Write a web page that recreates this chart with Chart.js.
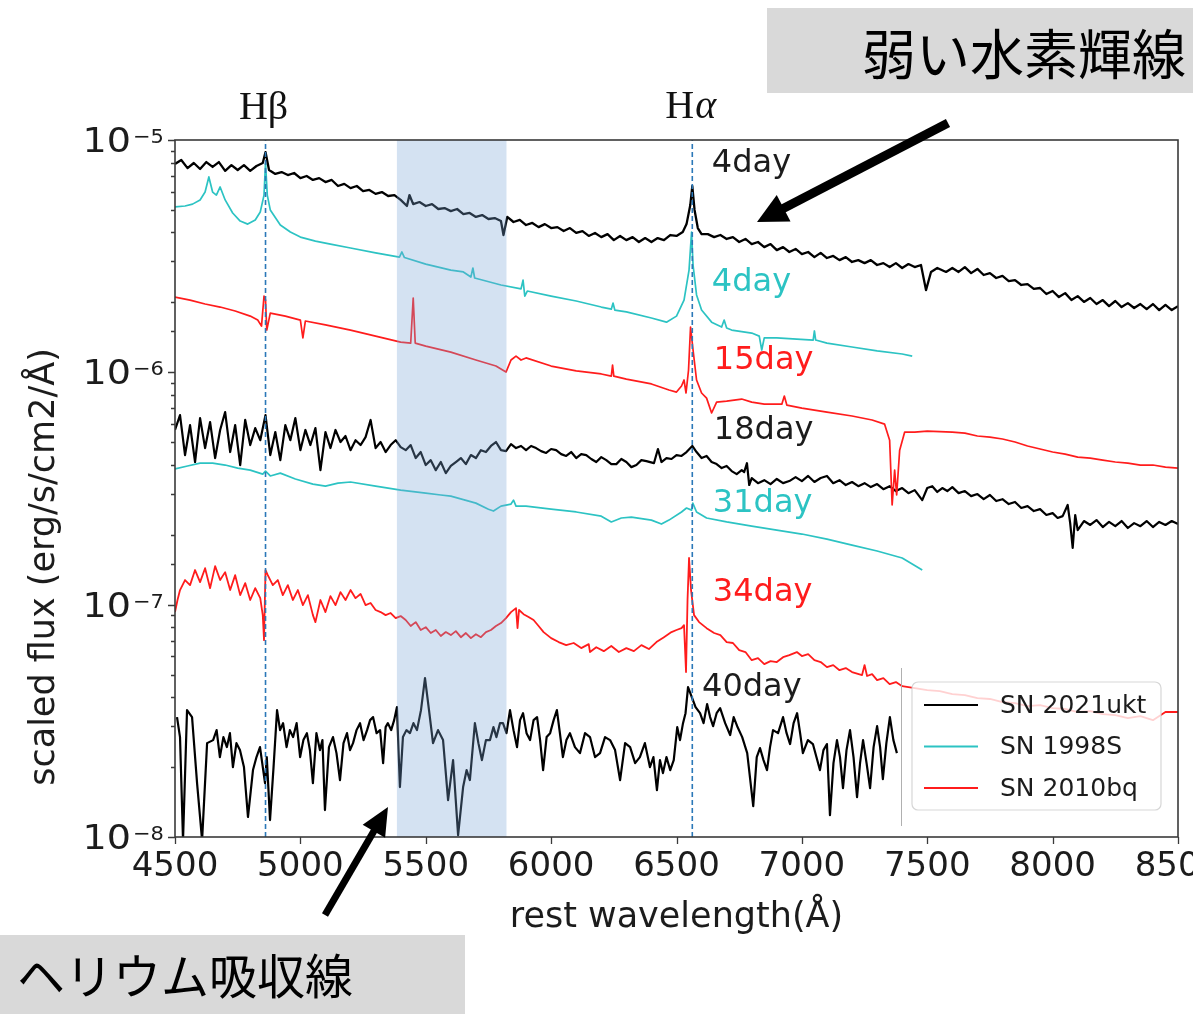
<!DOCTYPE html>
<html>
<head>
<meta charset="utf-8">
<script src="https://cdn.jsdelivr.net/npm/chart.js@4.4.1/dist/chart.umd.min.js"></script>
<style>
  html, body { margin: 0; padding: 0; background: #fff; overflow: hidden; }
  canvas { display: block; }
</style>
</head>
<body>
<canvas id="spectra" width="1193" height="1014"></canvas>
<script>
// Spectra as [rest wavelength (Å), log10 scaled flux]
const ukt21_4d = [[4500,-5.103],[4525,-5.086],[4550,-5.121],[4575,-5.099],[4600,-5.125],[4625,-5.095],[4650,-5.116],[4675,-5.095],[4700,-5.133],[4725,-5.108],[4750,-5.129],[4775,-5.108],[4800,-5.133],[4825,-5.112],[4850,-5.099],[4861,-5.052],[4875,-5.129],[4900,-5.146],[4925,-5.138],[4950,-5.151],[4975,-5.142],[5000,-5.164],[5025,-5.155],[5050,-5.172],[5075,-5.164],[5100,-5.181],[5125,-5.172],[5150,-5.198],[5175,-5.189],[5200,-5.207],[5225,-5.198],[5250,-5.220],[5275,-5.215],[5300,-5.232],[5325,-5.224],[5350,-5.241],[5375,-5.237],[5400,-5.258],[5425,-5.284],[5435,-5.237],[5450,-5.276],[5475,-5.267],[5500,-5.284],[5525,-5.276],[5550,-5.297],[5575,-5.293],[5600,-5.306],[5625,-5.297],[5650,-5.319],[5675,-5.314],[5700,-5.331],[5725,-5.323],[5750,-5.340],[5775,-5.336],[5800,-5.349],[5810,-5.409],[5825,-5.331],[5850,-5.353],[5875,-5.344],[5900,-5.366],[5925,-5.357],[5950,-5.375],[5975,-5.362],[6000,-5.379],[6025,-5.375],[6050,-5.392],[6075,-5.379],[6100,-5.400],[6125,-5.392],[6150,-5.413],[6175,-5.400],[6200,-5.418],[6225,-5.405],[6250,-5.431],[6275,-5.413],[6300,-5.431],[6325,-5.418],[6350,-5.439],[6375,-5.422],[6400,-5.439],[6425,-5.422],[6450,-5.431],[6475,-5.409],[6500,-5.413],[6525,-5.396],[6540,-5.362],[6555,-5.280],[6563,-5.198],[6572,-5.301],[6585,-5.379],[6600,-5.405],[6625,-5.405],[6650,-5.418],[6675,-5.409],[6700,-5.426],[6725,-5.418],[6750,-5.439],[6775,-5.426],[6800,-5.448],[6825,-5.439],[6850,-5.461],[6875,-5.448],[6900,-5.474],[6925,-5.461],[6950,-5.482],[6975,-5.469],[7000,-5.491],[7025,-5.482],[7050,-5.504],[7075,-5.486],[7100,-5.508],[7125,-5.499],[7150,-5.517],[7175,-5.504],[7200,-5.525],[7225,-5.517],[7250,-5.530],[7275,-5.517],[7300,-5.538],[7325,-5.530],[7350,-5.547],[7375,-5.530],[7400,-5.551],[7425,-5.534],[7450,-5.547],[7475,-5.538],[7495,-5.646],[7515,-5.568],[7540,-5.551],[7575,-5.568],[7600,-5.551],[7625,-5.568],[7650,-5.547],[7675,-5.573],[7700,-5.555],[7725,-5.581],[7750,-5.573],[7775,-5.594],[7800,-5.585],[7825,-5.607],[7850,-5.603],[7875,-5.624],[7900,-5.620],[7925,-5.641],[7950,-5.637],[7975,-5.663],[8000,-5.650],[8025,-5.676],[8050,-5.659],[8075,-5.689],[8100,-5.672],[8125,-5.697],[8150,-5.680],[8175,-5.706],[8200,-5.689],[8225,-5.715],[8250,-5.693],[8275,-5.719],[8300,-5.702],[8325,-5.723],[8350,-5.706],[8375,-5.728],[8400,-5.706],[8425,-5.732],[8450,-5.710],[8475,-5.732],[8500,-5.715]];

const ukt21_18d = [[4500,-6.248],[4520,-6.184],[4540,-6.356],[4560,-6.227],[4580,-6.386],[4600,-6.197],[4620,-6.326],[4640,-6.214],[4660,-6.369],[4680,-6.248],[4700,-6.171],[4720,-6.343],[4740,-6.227],[4760,-6.399],[4780,-6.205],[4800,-6.313],[4820,-6.240],[4840,-6.292],[4861,-6.184],[4880,-6.356],[4900,-6.257],[4920,-6.378],[4940,-6.227],[4960,-6.292],[4980,-6.197],[5000,-6.335],[5020,-6.248],[5040,-6.313],[5060,-6.240],[5080,-6.421],[5100,-6.257],[5120,-6.326],[5140,-6.248],[5160,-6.300],[5180,-6.274],[5200,-6.335],[5220,-6.292],[5240,-6.313],[5260,-6.279],[5280,-6.205],[5300,-6.326],[5320,-6.300],[5340,-6.343],[5360,-6.313],[5380,-6.292],[5400,-6.322],[5420,-6.335],[5440,-6.313],[5460,-6.369],[5480,-6.343],[5500,-6.399],[5520,-6.378],[5540,-6.421],[5560,-6.386],[5580,-6.434],[5600,-6.403],[5620,-6.386],[5640,-6.369],[5660,-6.395],[5680,-6.356],[5700,-6.369],[5720,-6.335],[5740,-6.343],[5760,-6.317],[5780,-6.300],[5800,-6.335],[5820,-6.339],[5840,-6.309],[5860,-6.326],[5880,-6.317],[5900,-6.335],[5920,-6.317],[5940,-6.326],[5960,-6.339],[5980,-6.347],[6000,-6.330],[6020,-6.335],[6040,-6.352],[6060,-6.360],[6080,-6.343],[6100,-6.369],[6120,-6.352],[6140,-6.356],[6160,-6.373],[6180,-6.386],[6200,-6.365],[6220,-6.378],[6240,-6.395],[6260,-6.395],[6280,-6.373],[6300,-6.386],[6320,-6.408],[6340,-6.399],[6360,-6.378],[6380,-6.382],[6410,-6.391],[6426,-6.330],[6440,-6.386],[6460,-6.369],[6480,-6.373],[6500,-6.356],[6520,-6.360],[6540,-6.343],[6563,-6.317],[6580,-6.343],[6600,-6.369],[6620,-6.360],[6640,-6.386],[6660,-6.395],[6680,-6.412],[6700,-6.403],[6720,-6.425],[6740,-6.438],[6760,-6.421],[6770,-6.429],[6781,-6.391],[6790,-6.485],[6800,-6.455],[6825,-6.477],[6850,-6.464],[6875,-6.481],[6900,-6.459],[6925,-6.477],[6950,-6.468],[6975,-6.451],[7000,-6.468],[7025,-6.446],[7050,-6.472],[7075,-6.455],[7100,-6.446],[7125,-6.477],[7150,-6.464],[7175,-6.485],[7200,-6.472],[7225,-6.490],[7250,-6.477],[7275,-6.494],[7300,-6.481],[7325,-6.503],[7350,-6.490],[7375,-6.511],[7400,-6.498],[7425,-6.520],[7450,-6.507],[7480,-6.550],[7500,-6.498],[7520,-6.490],[7540,-6.515],[7560,-6.498],[7580,-6.511],[7600,-6.494],[7625,-6.520],[7650,-6.511],[7675,-6.533],[7700,-6.524],[7725,-6.546],[7750,-6.528],[7775,-6.554],[7800,-6.546],[7825,-6.567],[7850,-6.558],[7875,-6.584],[7900,-6.576],[7925,-6.597],[7950,-6.589],[7975,-6.614],[8000,-6.606],[8020,-6.627],[8040,-6.619],[8060,-6.571],[8070,-6.649],[8080,-6.756],[8090,-6.614],[8100,-6.679],[8125,-6.640],[8150,-6.657],[8175,-6.636],[8200,-6.666],[8225,-6.644],[8250,-6.662],[8275,-6.640],[8300,-6.670],[8325,-6.649],[8350,-6.662],[8375,-6.640],[8400,-6.666],[8425,-6.644],[8450,-6.657],[8475,-6.640],[8500,-6.653]];

const ukt21_40d = [[4508,-7.484],[4520,-7.570],[4532,-8.014],[4548,-7.454],[4568,-7.484],[4588,-7.768],[4608,-8.014],[4628,-7.596],[4652,-7.583],[4666,-7.540],[4679,-7.656],[4693,-7.570],[4707,-7.613],[4719,-7.553],[4731,-7.699],[4745,-7.596],[4759,-7.626],[4775,-7.699],[4791,-7.914],[4811,-7.712],[4825,-7.656],[4839,-7.613],[4859,-7.768],[4866,-7.656],[4879,-7.927],[4893,-7.699],[4907,-7.454],[4919,-7.540],[4931,-7.510],[4945,-7.613],[4958,-7.540],[4971,-7.570],[4985,-7.510],[4999,-7.656],[5012,-7.583],[5026,-7.553],[5038,-7.626],[5050,-7.768],[5064,-7.553],[5078,-7.626],[5088,-7.583],[5098,-7.884],[5114,-7.613],[5130,-7.570],[5144,-7.639],[5158,-7.755],[5172,-7.596],[5186,-7.553],[5198,-7.626],[5210,-7.596],[5224,-7.540],[5238,-7.510],[5252,-7.583],[5266,-7.540],[5278,-7.497],[5290,-7.484],[5304,-7.553],[5318,-7.540],[5330,-7.682],[5340,-7.527],[5349,-7.510],[5362,-7.540],[5374,-7.497],[5385,-7.441],[5397,-7.785],[5409,-7.570],[5423,-7.540],[5437,-7.553],[5451,-7.510],[5465,-7.540],[5481,-7.454],[5497,-7.316],[5513,-7.454],[5529,-7.596],[5549,-7.540],[5569,-7.583],[5589,-7.841],[5609,-7.669],[5629,-7.992],[5649,-7.785],[5663,-7.712],[5676,-7.755],[5696,-7.510],[5710,-7.596],[5724,-7.669],[5740,-7.583],[5756,-7.583],[5770,-7.527],[5782,-7.570],[5796,-7.510],[5808,-7.510],[5822,-7.553],[5836,-7.454],[5850,-7.540],[5864,-7.613],[5876,-7.497],[5888,-7.467],[5902,-7.553],[5916,-7.583],[5930,-7.497],[5944,-7.484],[5956,-7.583],[5968,-7.712],[5982,-7.570],[5996,-7.553],[6010,-7.497],[6023,-7.454],[6035,-7.553],[6047,-7.656],[6061,-7.583],[6075,-7.553],[6095,-7.613],[6115,-7.639],[6135,-7.553],[6155,-7.570],[6175,-7.656],[6195,-7.639],[6215,-7.570],[6235,-7.583],[6255,-7.626],[6275,-7.755],[6295,-7.596],[6315,-7.613],[6335,-7.682],[6354,-7.656],[6374,-7.596],[6394,-7.699],[6408,-7.656],[6422,-7.798],[6434,-7.669],[6446,-7.725],[6460,-7.656],[6475,-7.712],[6489,-7.669],[6503,-7.527],[6514,-7.583],[6526,-7.510],[6536,-7.467],[6546,-7.355],[6558,-7.389],[6576,-7.441],[6594,-7.467],[6608,-7.510],[6622,-7.428],[6634,-7.484],[6646,-7.523],[6660,-7.467],[6674,-7.445],[6694,-7.510],[6714,-7.561],[6728,-7.484],[6742,-7.523],[6762,-7.570],[6782,-7.639],[6806,-7.867],[6820,-7.656],[6833,-7.617],[6847,-7.669],[6861,-7.712],[6873,-7.613],[6885,-7.540],[6905,-7.553],[6925,-7.484],[6939,-7.553],[6953,-7.600],[6967,-7.510],[6981,-7.467],[6993,-7.553],[7004,-7.639],[7024,-7.583],[7044,-7.600],[7058,-7.656],[7072,-7.712],[7086,-7.626],[7100,-7.600],[7112,-7.906],[7126,-7.682],[7140,-7.583],[7152,-7.656],[7164,-7.790],[7178,-7.626],[7192,-7.540],[7206,-7.656],[7220,-7.828],[7232,-7.682],[7244,-7.583],[7258,-7.682],[7272,-7.790],[7286,-7.613],[7300,-7.523],[7312,-7.613],[7323,-7.751],[7337,-7.596],[7351,-7.484],[7365,-7.583],[7379,-7.639]];

const s98_4d = [[4500,-5.288],[4540,-5.284],[4570,-5.276],[4600,-5.258],[4620,-5.224],[4635,-5.159],[4650,-5.224],[4665,-5.237],[4680,-5.202],[4700,-5.258],[4730,-5.314],[4760,-5.349],[4790,-5.362],[4820,-5.344],[4840,-5.310],[4855,-5.237],[4861,-5.099],[4868,-5.237],[4880,-5.301],[4920,-5.366],[4960,-5.396],[5000,-5.418],[5060,-5.435],[5120,-5.448],[5200,-5.465],[5300,-5.486],[5395,-5.504],[5405,-5.482],[5415,-5.506],[5500,-5.534],[5600,-5.560],[5650,-5.568],[5680,-5.590],[5688,-5.551],[5695,-5.594],[5800,-5.624],[5880,-5.641],[5888,-5.603],[5895,-5.672],[5905,-5.650],[6000,-5.672],[6100,-5.693],[6200,-5.719],[6240,-5.728],[6247,-5.702],[6254,-5.732],[6300,-5.740],[6400,-5.766],[6460,-5.784],[6500,-5.758],[6530,-5.689],[6550,-5.560],[6560,-5.396],[6566,-5.538],[6580,-5.667],[6600,-5.732],[6640,-5.784],[6680,-5.805],[6690,-5.775],[6700,-5.809],[6720,-5.818],[6800,-5.831],[6830,-5.844],[6840,-5.904],[6850,-5.852],[6900,-5.852],[6980,-5.857],[7045,-5.861],[7050,-5.822],[7055,-5.861],[7100,-5.874],[7200,-5.891],[7300,-5.908],[7400,-5.921],[7440,-5.930]];

const s98_31d = [[4500,-6.416],[4550,-6.403],[4600,-6.391],[4650,-6.391],[4700,-6.399],[4750,-6.412],[4800,-6.421],[4850,-6.438],[4861,-6.425],[4880,-6.446],[4920,-6.434],[4980,-6.459],[5050,-6.481],[5100,-6.490],[5150,-6.477],[5200,-6.472],[5300,-6.490],[5400,-6.507],[5500,-6.520],[5560,-6.528],[5600,-6.533],[5700,-6.563],[5750,-6.589],[5770,-6.597],[5800,-6.576],[5840,-6.567],[5850,-6.550],[5860,-6.576],[5900,-6.576],[6000,-6.589],[6100,-6.601],[6200,-6.619],[6240,-6.644],[6280,-6.627],[6320,-6.623],[6400,-6.636],[6440,-6.653],[6470,-6.636],[6520,-6.601],[6540,-6.584],[6560,-6.593],[6565,-6.563],[6580,-6.601],[6620,-6.627],[6700,-6.644],[6800,-6.662],[6900,-6.679],[7000,-6.696],[7100,-6.718],[7200,-6.744],[7300,-6.769],[7400,-6.799],[7480,-6.851]];

const bq10_15d = [[4500,-5.676],[4560,-5.689],[4620,-5.706],[4680,-5.719],[4740,-5.736],[4800,-5.758],[4830,-5.775],[4845,-5.801],[4855,-5.672],[4861,-5.689],[4866,-5.818],[4880,-5.745],[4940,-5.758],[5000,-5.775],[5010,-5.852],[5020,-5.779],[5100,-5.796],[5200,-5.818],[5300,-5.844],[5400,-5.870],[5440,-5.874],[5450,-5.680],[5458,-5.874],[5500,-5.887],[5600,-5.913],[5700,-5.947],[5780,-5.973],[5820,-5.999],[5840,-5.947],[5860,-5.930],[5880,-5.947],[5900,-5.938],[6000,-5.973],[6100,-5.994],[6200,-6.007],[6240,-6.016],[6245,-5.969],[6250,-6.016],[6300,-6.029],[6400,-6.050],[6470,-6.076],[6500,-6.085],[6520,-6.059],[6530,-6.033],[6538,-6.089],[6548,-5.990],[6556,-5.805],[6566,-5.904],[6580,-6.033],[6600,-6.089],[6620,-6.111],[6640,-6.175],[6660,-6.128],[6700,-6.124],[6760,-6.115],[6800,-6.128],[6850,-6.137],[6920,-6.137],[6930,-6.102],[6940,-6.141],[7000,-6.154],[7100,-6.171],[7200,-6.188],[7280,-6.205],[7330,-6.223],[7350,-6.292],[7360,-6.571],[7370,-6.421],[7378,-6.528],[7390,-6.335],[7410,-6.257],[7450,-6.257],[7500,-6.253],[7600,-6.257],[7650,-6.262],[7700,-6.274],[7750,-6.279],[7800,-6.287],[7850,-6.300],[7900,-6.317],[7950,-6.330],[8000,-6.343],[8050,-6.352],[8100,-6.365],[8150,-6.369],[8200,-6.378],[8250,-6.386],[8300,-6.391],[8350,-6.399],[8400,-6.399],[8450,-6.408],[8500,-6.412]];

const bq10_34d = [[4500,-7.032],[4510,-6.980],[4520,-6.937],[4540,-6.894],[4560,-6.916],[4580,-6.851],[4600,-6.903],[4620,-6.843],[4640,-6.929],[4660,-6.834],[4680,-6.894],[4700,-6.860],[4720,-6.937],[4740,-6.873],[4760,-6.959],[4780,-6.907],[4800,-6.980],[4820,-6.929],[4840,-6.972],[4850,-7.045],[4855,-7.153],[4861,-6.851],[4870,-6.873],[4890,-6.916],[4910,-6.894],[4930,-6.959],[4950,-6.916],[4970,-6.980],[4990,-6.937],[5010,-7.002],[5030,-6.959],[5050,-7.045],[5060,-7.075],[5080,-6.980],[5100,-7.032],[5120,-6.963],[5140,-7.002],[5160,-6.946],[5180,-6.980],[5200,-6.937],[5220,-6.972],[5240,-6.954],[5260,-7.002],[5280,-6.993],[5300,-7.023],[5320,-7.032],[5340,-7.045],[5360,-7.036],[5380,-7.058],[5400,-7.049],[5420,-7.066],[5440,-7.092],[5460,-7.075],[5480,-7.109],[5500,-7.097],[5520,-7.122],[5540,-7.109],[5560,-7.135],[5580,-7.118],[5600,-7.131],[5620,-7.114],[5640,-7.140],[5660,-7.122],[5680,-7.144],[5700,-7.127],[5720,-7.140],[5740,-7.118],[5760,-7.109],[5780,-7.092],[5800,-7.079],[5820,-7.058],[5840,-7.032],[5860,-7.015],[5866,-7.101],[5872,-7.023],[5890,-7.041],[5910,-7.053],[5930,-7.066],[5950,-7.092],[5970,-7.118],[6000,-7.144],[6030,-7.161],[6060,-7.174],[6090,-7.165],[6120,-7.187],[6150,-7.170],[6155,-7.204],[6180,-7.183],[6210,-7.200],[6240,-7.178],[6270,-7.204],[6300,-7.187],[6330,-7.200],[6360,-7.174],[6390,-7.191],[6420,-7.161],[6450,-7.140],[6480,-7.118],[6500,-7.109],[6520,-7.101],[6530,-7.088],[6538,-7.290],[6544,-6.980],[6550,-6.799],[6558,-6.937],[6570,-7.045],[6590,-7.075],[6620,-7.101],[6650,-7.122],[6675,-7.131],[6700,-7.161],[6725,-7.165],[6750,-7.196],[6775,-7.204],[6800,-7.239],[6825,-7.230],[6850,-7.256],[6875,-7.243],[6900,-7.247],[6925,-7.226],[6950,-7.217],[6980,-7.204],[7000,-7.221],[7025,-7.213],[7050,-7.239],[7075,-7.247],[7100,-7.269],[7125,-7.260],[7150,-7.282],[7175,-7.273],[7200,-7.290],[7240,-7.303],[7250,-7.260],[7260,-7.307],[7280,-7.299],[7300,-7.325],[7325,-7.316],[7350,-7.342],[7375,-7.333],[7400,-7.351],[7450,-7.359],[7500,-7.368],[7550,-7.372],[7600,-7.385],[7650,-7.389],[7700,-7.402],[7750,-7.406],[7800,-7.419],[7850,-7.424],[7900,-7.437],[7950,-7.432],[8000,-7.445],[8050,-7.449],[8100,-7.462],[8150,-7.458],[8200,-7.471],[8250,-7.475],[8300,-7.488],[8350,-7.480],[8400,-7.497],[8450,-7.462],[8500,-7.462]];

// Balmer line positions and the He I window (Å)
const hBeta = 4861;
const hAlpha = 6563;
const heBand = [5385, 5822];

const xTicks = [4500, 5000, 5500, 6000, 6500, 7000, 7500, 8000, 8500];
const yDecades = [-8, -7, -6, -5];

const C_BLACK = '#000000';
const C_CYAN = '#2cc3c3';
const C_RED = '#ff1c1c';
const C_TEXT = '#1c1c1c';

const objects = [
  { label: 'SN 2021ukt', color: C_BLACK },
  { label: 'SN 1998S', color: C_CYAN },
  { label: 'SN 2010bq', color: C_RED },
];

// epoch labels, anchored in (Å, log flux)
const epochLabels = [
  { text: '4day', wl: 6641, logF: -5.099, color: C_TEXT },
  { text: '4day', wl: 6641, logF: -5.611, color: C_CYAN },
  { text: '15day', wl: 6649, logF: -5.947, color: C_RED },
  { text: '18day', wl: 6649, logF: -6.248, color: C_TEXT },
  { text: '31day', wl: 6645, logF: -6.563, color: C_CYAN },
  { text: '34day', wl: 6645, logF: -6.942, color: C_RED },
  { text: '40day', wl: 6602, logF: -7.351, color: C_TEXT },
];

const toPoints = (arr) => arr.map(([w, lf]) => ({ x: w, y: Math.pow(10, lf) }));

function spectrum(arr, color, width) {
  return {
    data: toPoints(arr),
    borderColor: color,
    borderWidth: width,
    borderJoinStyle: 'round',
    pointRadius: 0,
    tension: 0,
    fill: false,
  };
}

function marker(wl) {
  return {
    data: [{ x: wl, y: 1e-8 }, { x: wl, y: 1e-5 }],
    borderColor: '#2b78b8',
    borderWidth: 1.6,
    borderDash: [5, 3],
    pointRadius: 0,
    fill: false,
  };
}

const SUP = { '-': '\u2212' };

function drawArrow(ctx, x0, y0, x1, y1, width, head, halfW) {
  const a = Math.atan2(y1 - y0, x1 - x0);
  const bx = x1 - head * Math.cos(a);
  const by = y1 - head * Math.sin(a);
  ctx.strokeStyle = '#000';
  ctx.fillStyle = '#000';
  ctx.lineWidth = width;
  ctx.lineCap = 'butt';
  ctx.beginPath();
  ctx.moveTo(x0, y0);
  ctx.lineTo(bx + Math.cos(a), by + Math.sin(a));
  ctx.stroke();
  ctx.beginPath();
  ctx.moveTo(x1, y1);
  ctx.lineTo(bx + halfW * Math.sin(a), by - halfW * Math.cos(a));
  ctx.lineTo(bx - halfW * Math.sin(a), by + halfW * Math.cos(a));
  ctx.closePath();
  ctx.fill();
}

const heBandPlugin = {
  id: 'heBand',
  afterDatasetsDraw(chart) {
    const { ctx, chartArea, scales } = chart;
    const x0 = scales.x.getPixelForValue(heBand[0]);
    const x1 = scales.x.getPixelForValue(heBand[1]);
    ctx.save();
    ctx.fillStyle = 'rgba(120, 165, 215, 0.32)';
    ctx.fillRect(x0, chartArea.top, x1 - x0, chartArea.bottom - chartArea.top);
    ctx.restore();
  },
};

const decorPlugin = {
  id: 'decor',
  afterDraw(chart) {
    const { ctx, chartArea, scales } = chart;
    const { left, right, top, bottom } = chartArea;
    const xs = scales.x;
    const ys = scales.y;
    ctx.save();

    // frame
    ctx.strokeStyle = '#3a3a3a';
    ctx.lineWidth = 1.6;
    ctx.strokeRect(left, top, right - left, bottom - top);

    // x ticks (outward)
    ctx.beginPath();
    xTicks.forEach((v) => {
      const px = Math.round(xs.getPixelForValue(v)) + 0.5;
      ctx.moveTo(px, bottom);
      ctx.lineTo(px, bottom + 7);
    });
    // y ticks: decades long, the rest short
    ys.ticks.forEach((t) => {
      const e = Math.log10(t.value);
      const major = Math.abs(e - Math.round(e)) < 1e-6;
      const py = Math.round(ys.getPixelForValue(t.value)) + 0.5;
      ctx.moveTo(left, py);
      ctx.lineTo(left - (major ? 7 : 4), py);
    });
    ctx.lineWidth = 1.3;
    ctx.stroke();

    // y tick labels 10^n, slightly widened
    ctx.fillStyle = C_TEXT;
    yDecades.forEach((e) => {
      const py = ys.getPixelForValue(Math.pow(10, e));
      ctx.save();
      ctx.translate(131, py + 12);
      ctx.scale(1.12, 1);
      ctx.font = '34px "DejaVu Sans"';
      ctx.textAlign = 'right';
      ctx.textBaseline = 'alphabetic';
      ctx.fillText('10', 0, 0);
      ctx.restore();
      ctx.save();
      ctx.translate(133, py + 3);
      ctx.scale(1.05, 1);
      ctx.font = '20px "DejaVu Sans"';
      ctx.textAlign = 'left';
      ctx.fillText(String(e).split('').map((c) => SUP[c] || c).join(''), 0, 0);
      ctx.restore();
    });

    // axis titles
    ctx.font = '35px "DejaVu Sans"';
    ctx.textAlign = 'center';
    ctx.textBaseline = 'middle';
    ctx.fillText('rest wavelength(\u00c5)', (left + right) / 2, 918);
    ctx.save();
    ctx.translate(45, 567);
    ctx.rotate(-Math.PI / 2);
    ctx.fillText('scaled flux (erg/s/cm2/\u00c5)', 0, 0);
    ctx.restore();

    // epoch labels
    ctx.font = '32px "DejaVu Sans"';
    ctx.textAlign = 'left';
    ctx.textBaseline = 'middle';
    epochLabels.forEach((l) => {
      ctx.fillStyle = l.color;
      ctx.fillText(l.text, xs.getPixelForValue(l.wl), ys.getPixelForValue(Math.pow(10, l.logF)) + 1);
    });

    // legend
    const lx = 912, ly = 682, lw = 249, lh = 128;
    ctx.beginPath();
    ctx.roundRect(lx, ly, lw, lh, 6);
    ctx.fillStyle = 'rgba(255,255,255,0.8)';
    ctx.fill();
    ctx.strokeStyle = 'rgba(204,204,204,0.8)';
    ctx.lineWidth = 1.2;
    ctx.stroke();
    ctx.font = '25px "DejaVu Sans"';
    ctx.textAlign = 'left';
    ctx.textBaseline = 'middle';
    objects.forEach((o, i) => {
      const y = 705 + i * 41.5;
      ctx.strokeStyle = o.color;
      ctx.lineWidth = 2;
      ctx.beginPath();
      ctx.moveTo(924, y);
      ctx.lineTo(978, y);
      ctx.stroke();
      ctx.fillStyle = C_TEXT;
      ctx.fillText(o.label, 1000, y + 1);
    });

    // thin rule beside the legend
    ctx.strokeStyle = '#b0b0b0';
    ctx.lineWidth = 1;
    ctx.beginPath();
    ctx.moveTo(901.5, 668);
    ctx.lineTo(901.5, 826);
    ctx.stroke();

    // H beta / H alpha labels above the dashed markers
    ctx.fillStyle = '#111';
    ctx.textBaseline = 'alphabetic';
    ctx.textAlign = 'center';
    ctx.font = '40px "Liberation Serif"';
    ctx.fillText('H\u03b2', xs.getPixelForValue(hBeta) - 2, 119);
    const hx = xs.getPixelForValue(hAlpha) - 2;
    ctx.font = '40px "Liberation Serif"';
    const wH = ctx.measureText('H').width;
    ctx.font = 'italic 40px "Liberation Serif"';
    const wA = ctx.measureText('\u03b1').width;
    ctx.textAlign = 'left';
    ctx.font = '40px "Liberation Serif"';
    ctx.fillText('H', hx - (wH + wA) / 2, 118);
    ctx.font = 'italic 40px "Liberation Serif"';
    ctx.fillText('\u03b1', hx - (wH + wA) / 2 + wH + 1, 118);

    // callouts
    ctx.fillStyle = '#d9d9d9';
    ctx.fillRect(767, 8, 426, 85);
    ctx.fillRect(0, 935, 465, 79);
    ctx.fillStyle = '#000';
    ctx.textBaseline = 'middle';
    ctx.textAlign = 'left';
    ctx.font = '54px "Noto Sans CJK JP"';
    ctx.fillText('弱い水素輝線', 862, 54);
    ctx.font = '48px "Noto Sans CJK JP"';
    ctx.fillText('ヘリウム吸収線', 17, 976);

    drawArrow(ctx, 948, 123, 757, 222, 9, 30, 15);
    drawArrow(ctx, 325, 915, 388, 807, 7, 28, 13);

    ctx.restore();
  },
};

const ctx = document.getElementById('spectra').getContext('2d');

new Chart(ctx, {
  type: 'line',
  data: {
    datasets: [
      marker(hBeta),
      marker(hAlpha),
      spectrum(ukt21_4d, C_BLACK, 2.3),
      spectrum(s98_4d, C_CYAN, 1.7),
      spectrum(bq10_15d, C_RED, 1.7),
      spectrum(ukt21_18d, C_BLACK, 2.2),
      spectrum(s98_31d, C_CYAN, 1.7),
      spectrum(bq10_34d, C_RED, 1.8),
      spectrum(ukt21_40d, C_BLACK, 2.2),
    ],
  },
  options: {
    responsive: false,
    animation: false,
    devicePixelRatio: 1,
    layout: { padding: { left: 0, right: 15, top: 140, bottom: 0 } },
    plugins: {
      legend: { display: false },
      tooltip: { enabled: false },
    },
    scales: {
      x: {
        type: 'linear',
        min: 4500,
        max: 8500,
        ticks: {
          stepSize: 500,
          autoSkip: false,
          maxRotation: 0,
          padding: 10,
          color: C_TEXT,
          font: { family: 'DejaVu Sans', size: 34 },
          callback: (v) => String(v),
        },
        grid: { display: false, drawTicks: false },
        border: { display: false },
        afterFit(scale) {
          scale.height = 177;
          scale.paddingLeft = 0;
          scale.paddingRight = 0;
        },
      },
      y: {
        type: 'logarithmic',
        min: 1e-8,
        max: 1e-5,
        ticks: { display: false, autoSkip: false },
        grid: { display: false, drawTicks: false },
        border: { display: false },
        afterFit(scale) {
          scale.width = 175;
          scale.paddingTop = 0;
          scale.paddingBottom = 0;
        },
      },
    },
  },
  plugins: [heBandPlugin, decorPlugin],
});
</script>
</body>
</html>
